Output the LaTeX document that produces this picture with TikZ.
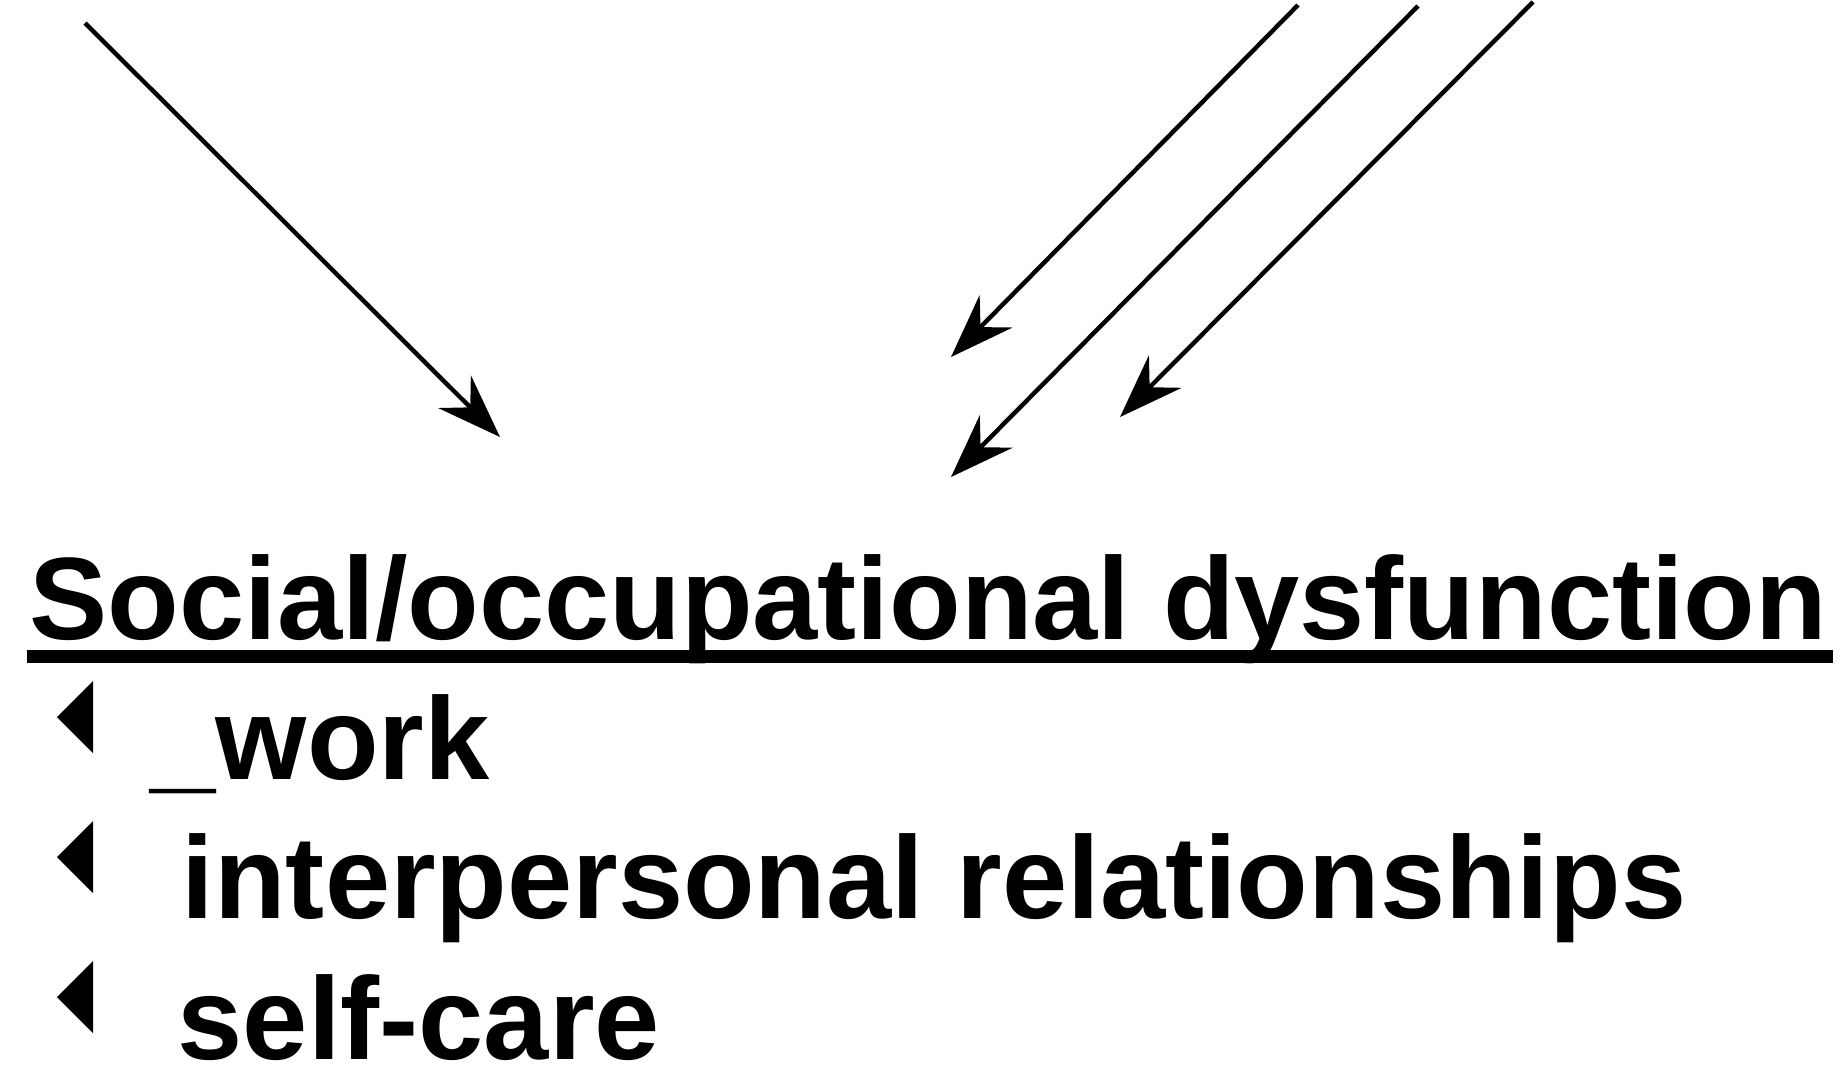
\documentclass[tikz,border=0pt]{standalone}
\usepackage{fontspec}
\setmainfont{Liberation Sans}
\usetikzlibrary{arrows.meta}
\tikzset{
  arr/.style={line width=1.1pt, -{Stealth[length=16pt, width=11.5pt, inset=5.5pt]}},
  label/.style={anchor=base west, inner sep=0pt, font=\fontsize{29.3pt}{35pt}\selectfont\bfseries}
}
\begin{document}
\begin{tikzpicture}[x=0.25pt, y=-0.25pt]
		\useasboundingbox (0,0) rectangle (1840,1065);
		
		% arrows from above
		\coordinate (s1) at (85,23);    \coordinate (t1) at (500,437);
		\coordinate (s2) at (1298,5);   \coordinate (t2) at (951,357);
		\coordinate (s3) at (1418,6);   \coordinate (t3) at (951,477);
		\coordinate (s4) at (1533,2);   \coordinate (t4) at (1120,417);
		\foreach \i in {1,2,3,4}
		\draw[arr] (s\i) -- (t\i);
		
		% title
		\node[label] (title) at (29,639) {Social/occupational dysfunction};
		\fill (27,650) rectangle (1833,663);
		
		% bullets
		\foreach \y in {717,857,997}
		\fill (93,\y-36) -- (57,\y) -- (93,\y+36) -- cycle;
		\node[label] (work) at (150,779) {\_work};
		\node[label] (inter) at (181,918) {interpersonal relationships};
		\node[label] (self) at (177,1059) {self-care};
	\end{tikzpicture}
\end{document}
